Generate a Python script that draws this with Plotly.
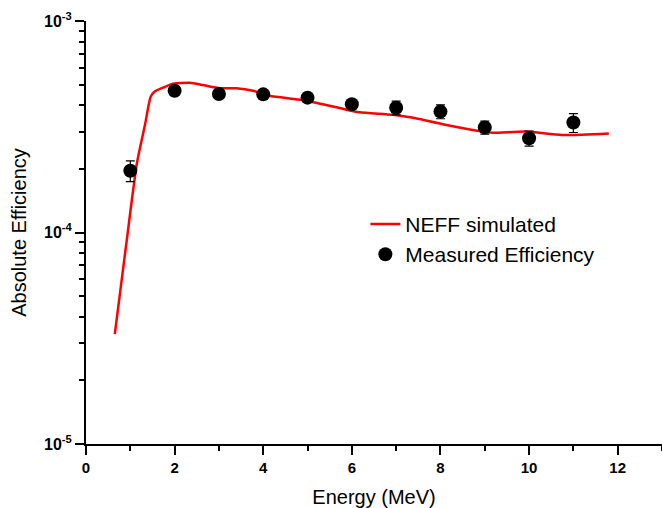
import numpy as np
import plotly.graph_objects as go

# NEFF simulated efficiency curve
sim_energy = [0.65, 0.90, 1.15, 1.33, 1.46, 1.55, 1.75, 1.93, 2.34, 2.64, 3.02,
              3.39, 3.77, 4.14, 4.89, 5.65, 6.17, 6.92, 7.52, 8.05, 8.95, 9.17,
              9.93, 10.75, 11.80]
sim_eff = [3.31e-5, 8.54e-5, 2.13e-4, 3.22e-4, 4.38e-4, 4.64e-4, 4.85e-4, 5.03e-4,
           5.11e-4, 4.98e-4, 4.81e-4, 4.81e-4, 4.68e-4, 4.43e-4, 4.23e-4, 3.91e-4,
           3.70e-4, 3.60e-4, 3.44e-4, 3.25e-4, 3.00e-4, 2.96e-4, 3.00e-4, 2.89e-4,
           2.94e-4]

# Measured efficiency with uncertainties
meas_energy = [1, 2, 3, 4, 5, 6, 7, 8, 9, 10, 11]
meas_eff = [1.96e-4, 4.68e-4, 4.52e-4, 4.50e-4, 4.34e-4, 4.04e-4, 3.89e-4,
            3.73e-4, 3.14e-4, 2.79e-4, 3.31e-4]
meas_err = [0.22e-4, 0.15e-4, 0.15e-4, 0.15e-4, 0.15e-4, 0.15e-4, 0.29e-4,
            0.28e-4, 0.22e-4, 0.23e-4, 0.34e-4]

# Axis ticks
x_ticks = [0, 2, 4, 6, 8, 10, 12]
y_major = [1e-5, 1e-4, 1e-3]
y_labels = ["10<sup>-5</sup>", "10<sup>-4</sup>", "10<sup>-3</sup>"]
y_minor = [k * d for d in (1e-5, 1e-4) for k in range(2, 10)]

FONT = "Liberation Sans, Arial, sans-serif"

fig = go.Figure()
fig.add_trace(go.Scatter(
    x=sim_energy, y=sim_eff, mode="lines", name="NEFF simulated",
    line=dict(color="#ff0000", width=2.5, shape="spline", smoothing=0.6),
))
fig.add_trace(go.Scatter(
    x=meas_energy, y=meas_eff, mode="markers", name="Measured Efficiency",
    marker=dict(color="black", size=14, symbol="circle"),
    error_y=dict(type="data", array=meas_err, visible=True,
                 color="black", thickness=1.2, width=4.5),
))

fig.update_layout(
    width=662, height=508,
    margin=dict(l=86, r=0, t=21, b=64),
    paper_bgcolor="white", plot_bgcolor="white",
    font=dict(family=FONT, color="black"),
    showlegend=True,
    legend=dict(x=0.485, y=0.568, xanchor="left", yanchor="top",
                bgcolor="rgba(0,0,0,0)", font=dict(size=21, family=FONT)),
)

fig.update_xaxes(
    range=[0, 13], tickmode="array", tickvals=x_ticks,
    showline=True, linecolor="black", linewidth=2,
    ticks="outside", ticklen=9, tickwidth=2, tickcolor="black",
    tickfont=dict(size=15, family=FONT, weight="bold"),
    minor=dict(ticks="outside", ticklen=5, tickwidth=1.5, tickcolor="black",
               dtick=1, tick0=0, showgrid=False),
    showgrid=False, zeroline=False,
    title=dict(text="Energy (MeV)", font=dict(size=20, family=FONT), standoff=19),
)
fig.update_yaxes(
    type="log", range=[-5, -3], tickmode="array",
    tickvals=y_major, ticktext=y_labels,
    showline=True, linecolor="black", linewidth=2,
    ticks="outside", ticklen=9, tickwidth=2, tickcolor="black",
    tickfont=dict(size=16, family=FONT, weight="bold"),
    minor=dict(ticks="outside", ticklen=5, tickwidth=1.5, tickcolor="black",
               tickvals=y_minor, showgrid=False),
    showgrid=False, zeroline=False,
    title=dict(text="Absolute Efficiency", font=dict(size=20, family=FONT), standoff=12),
)

fig.write_html("out.html")
